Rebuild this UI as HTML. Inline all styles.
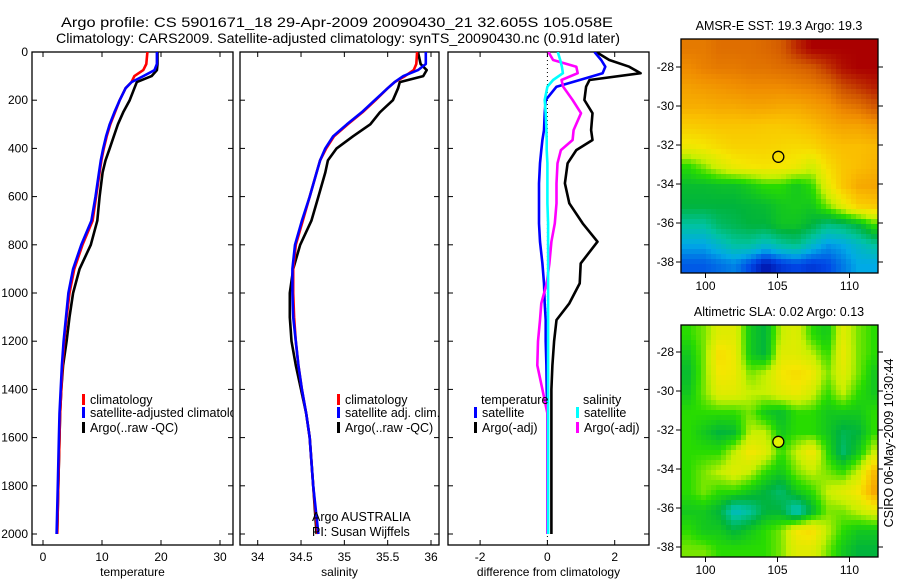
<!DOCTYPE html>
<html><head><meta charset="utf-8">
<style>
html,body{margin:0;padding:0;background:#fff;}
svg{display:block;font-family:"Liberation Sans",sans-serif;}
</style></head>
<body>
<svg id="fig" width="900" height="580" viewBox="0 0 900 580" xmlns="http://www.w3.org/2000/svg">
<rect width="900" height="580" fill="#fff"/>
<text x="61" y="27" font-size="14" textLength="552" lengthAdjust="spacingAndGlyphs">Argo profile: CS 5901671_18 29-Apr-2009 20090430_21 32.605S 105.058E</text>
<text x="56" y="43" font-size="14" textLength="564" lengthAdjust="spacingAndGlyphs">Climatology: CARS2009. Satellite-adjusted climatology: synTS_20090430.nc (0.91d later)</text>
<g id="plots"></g>
</svg>
<script>
// ---------- data ----------
const depths = [0,50,75,100,125,150,200,250,300,350,400,450,500,600,700,800,900,1000,1100,1200,1300,1400,1500,1600,1800,2000];
const tempSat = [19.3,19.3,18.9,17,15,14,13,12.1,11.3,10.7,10.2,9.8,9.5,8.9,8.2,6.5,5.1,4.3,3.9,3.5,3.2,3.0,2.8,2.7,2.5,2.3];
const tempClim = [17.7,17.5,17,15.5,15,14,13,12.2,11.4,10.8,10.3,9.9,9.6,9.0,8.4,6.7,5.3,4.5,4.0,3.6,3.3,3.1,2.9,2.8,2.6,2.4];
const tempArgo = [19.4,19.4,19.3,18.4,15.9,15.5,14.7,13.6,12.7,12,11.3,10.6,10.1,9.6,9.2,8.1,6.2,5.1,4.5,4.0,3.4,3.1,2.9,2.8,2.6,2.4];
const salSat = [35.94,35.94,35.85,35.68,35.58,35.5,35.35,35.2,35.03,34.87,34.78,34.72,34.68,34.6,34.51,34.43,34.4,34.4,34.41,34.44,34.47,34.51,34.56,34.6,34.64,34.7];
const salClim = [35.84,35.83,35.8,35.7,35.58,35.5,35.36,35.21,35.04,34.88,34.79,34.72,34.68,34.6,34.52,34.44,34.41,34.41,34.42,34.44,34.47,34.51,34.56,34.6,34.64,34.69];
const salArgo = [35.85,35.88,35.95,35.91,35.64,35.62,35.56,35.41,35.3,35.1,34.91,34.81,34.78,34.7,34.62,34.49,34.41,34.37,34.37,34.39,34.44,34.5,34.56,34.6,34.64,34.68];
const diffDepths = [0,33,61,88,116,144,199,254,324,365,407,462,545,628,711,787,877,960,1043,1112,1200,1300,1400,1500,1600,1800,1950,2000];
const diffTempArgo = [1.45,1.84,2.43,2.77,1.25,1.15,1.1,1.34,1.3,1.34,0.86,0.6,0.52,0.65,1.05,1.49,0.99,0.96,0.65,0.27,0.2,0.15,0.12,0.12,0.12,0.12,0.12,0.12];
const diffTempSat = [1.4,1.6,1.72,1.64,0.96,0.27,-0.05,-0.08,-0.1,-0.15,-0.18,-0.22,-0.25,-0.25,-0.25,-0.22,-0.15,-0.1,-0.08,-0.05,-0.05,-0.03,-0.02,0,0,0,0,0];
const diffSalArgo = [0.03,0.17,0.86,0.9,0.42,0.47,0.75,1.0,0.78,0.75,0.4,0.3,0.27,0.27,0.22,0.12,0.06,-0.02,-0.18,-0.22,-0.28,-0.3,-0.15,0,0,0,0,0];
const diffSalSat = [0.31,0.38,0.43,0.46,0.17,0.0,-0.08,-0.05,-0.03,-0.02,-0.02,0,0,0,0.02,0.02,0.02,0.02,0.02,0.02,0.02,0.02,0.02,0.02,0.02,0.02,0.02,0.02];
const depthTicks = [0,200,400,600,800,1000,1200,1400,1600,1800,2000];
const tempTicks = [0,10,20,30];
const salTicks = [34,34.5,35,35.5,36];
const salTickLabels = ["34","34.5","35","35.5","36"];
const diffTicks = [-2,0,2];
const lonTicks = [100,105,110];
const latTicks = [-28,-30,-32,-34,-36,-38];
// SST field (colour index 0..11), rows north->south, cols west->east
const sstGrid = [
[9.3,9.3,9.5,9.5,9.5,9.6,9.8,10.5,11,11,11,11,11],
[9,9.2,9.3,9.3,9.4,9.4,9.5,9.6,9.8,10.3,10.8,11,11],
[8.6,8.7,8.8,8.9,9,9,9,9.1,9.2,9.4,10,10.3,10.6],
[8.3,8.3,8.4,8.4,8.5,8.5,8.4,8.4,8.6,8.8,9.2,9.4,9.8],
[7.6,7.7,7.8,7.8,7.8,7.7,7.7,7.8,8,8.3,8.5,8.5,8.7],
[6.8,7,7.3,7.5,7.5,7.5,7.4,7.3,7.4,7.8,8,8,8.1],
[5,5.6,6.3,6.8,7,7.1,7,6.8,6.2,7.2,7.8,8,8.2],
[4.2,4.2,4.3,4.3,4.6,5,5,4.5,5,6.6,7.8,8.4,8.5],
[4,4,4,4,4.1,4.2,4.5,4.6,4.5,5.5,6.6,7.6,7.8],
[3,3,3.6,3.8,4,4,4.4,4.4,4,3.3,3.5,4,5],
[2,2,2.5,3,3,2.5,3,3.3,2.5,1.8,2,2.5,3],
[1.2,1.2,1.4,1.6,1,0.3,0.8,1,0.8,1,1.5,2,2]];
const slaGrid = [
[5,5.5,6.5,6.5,4.5,4,6,6.5,5,4.5,6.5,5.5,5],
[4.5,5.5,7.3,6.8,4.5,4,6.5,6.5,6,5,6.8,5.5,5],
[4.2,5.5,7,6.8,5.5,6,7,7.3,7,5.5,6.5,5.5,4.5],
[4.5,5.5,6.5,6.5,6,6,6.5,6.8,6.2,5,6,5,4.5],
[5,5,5,5,5.5,4.5,4.2,5,5,4.5,4.5,4.5,5],
[5,4.5,4,4.2,6,6,4.5,5,5,4.5,3.8,4,5],
[5,5,5,6,7,6.5,5,6,7,5,3.5,4.5,6],
[5,5.5,6,6.5,6,5,4.5,5.5,6,5.5,5,6,8],
[5,5.5,5,5,4.5,4,3.5,4.5,5,6,6.5,7,8.5],
[4.5,4.5,4,2.5,3,4,4,2.5,4,5.5,5.5,6,6.5],
[5,4.5,4.5,4,4.5,5,5.5,7,7.3,6,5,4.5,4.5],
[5.5,5.5,5,5,5,5,5.5,6.5,6.5,5.5,4.5,4,4]];
const palette = [[0,0,150],[0,70,230],[0,170,230],[0,195,160],[0,180,60],[40,220,0],[200,240,0],[245,230,0],[250,190,0],[240,140,0],[205,80,0],[170,0,0]];
const argoLon = 105.058, argoLat = -32.605;

// ---------- helpers ----------
const NS="http://www.w3.org/2000/svg";
const root=document.getElementById('plots');
function mk(tag,attrs,parent){const e=document.createElementNS(NS,tag);for(const k in attrs)e.setAttribute(k,attrs[k]);(parent||root).appendChild(e);return e;}
function txt(s,x,y,size,anchor,parent){const t=mk('text',{x:x,y:y,'font-size':size,'text-anchor':anchor||'middle'},parent);t.textContent=s;return t;}
const TOP=52, BOT=545;
const yDepth=d=>52+0.241*d;
function lin(d0,d1,r0,r1){return v=>r0+(v-d0)*(r1-r0)/(d1-d0);}

function panel(name,x0,x1,xs,ticks,labels,xlabel,showY){
  const g=mk('g',{});
  
  
  const cp=mk('clipPath',{id:'clip-'+name},g);
  mk('rect',{x:x0,y:TOP,width:x1-x0,height:BOT-TOP},cp);
  const fr=mk('rect',{x:x0,y:TOP,width:x1-x0,height:BOT-TOP,fill:'none',stroke:'#000','stroke-width':1.3},g);
  
  
  depthTicks.forEach(d=>{
    const y=yDepth(d);
    mk('line',{x1:x0,x2:x0+5,y1:y,y2:y,stroke:'#000'},g);
    mk('line',{x1:x1-5,x2:x1,y1:y,y2:y,stroke:'#000'},g);
    if(showY){const t=txt(String(d),x0-4,y+4,12,'end',g);
      
      }
  });
  ticks.forEach((v,i)=>{
    const x=xs(v);
    mk('line',{x1:x,x2:x,y1:BOT,y2:BOT-5,stroke:'#000'},g);
    mk('line',{x1:x,x2:x,y1:TOP,y2:TOP+5,stroke:'#000'},g);
    const t=txt(labels[i],x,561,12,'middle',g);
    
    
  });
  const xl=txt(xlabel,(x0+x1)/2,576,12,'middle',g);
  
  
  const plot=mk('g',{'clip-path':'url(#clip-'+name+')'},g);
  return plot;
}
function line(parent,name,ds,vals,xs,color,w){
  const pts=ds.map((d,i)=>xs(vals[i]).toFixed(1)+','+yDepth(d).toFixed(1)).join(' ');
  const p=mk('polyline',{points:pts,fill:'none',stroke:color,'stroke-width':w||2.6,'stroke-linejoin':'round'},parent);
  
  
}
function legendEntry(parent,name,x,y,color,label){
  const g=mk('g',{},parent);
  
  
  mk('rect',{x:x,y:y-10,width:3,height:11,fill:color},g);
  txt(label,x+8,y,12.5,'start',g);
}

// ---------- panel 1: temperature ----------
const xT=lin(0,30,43,220);
const p1=panel('temperature-panel',32,233,xT,tempTicks,tempTicks.map(String),'temperature',true);
line(p1,'temp-argo-line',depths,tempArgo,xT,'#000');
line(p1,'temp-climatology-line',depths,tempClim,xT,'#f00');
line(p1,'temp-satellite-line',depths,tempSat,xT,'#00f');
const lg1=mk('g',{'clip-path':'url(#clip-temperature-panel)'});


legendEntry(lg1,'legend-climatology',82,404,'#f00','climatology');
legendEntry(lg1,'legend-satellite-adjusted',82,417,'#00f','satellite-adjusted climatology');
legendEntry(lg1,'legend-argo-raw',82,432,'#000','Argo(..raw -QC)');

// ---------- panel 2: salinity ----------
const xS=lin(34,36,257.7,431);
const p2=panel('salinity-panel',240,439,xS,salTicks,salTickLabels,'salinity',false);
line(p2,'sal-argo-line',depths,salArgo,xS,'#000');
line(p2,'sal-climatology-line',depths,salClim,xS,'#f00');
line(p2,'sal-satellite-line',depths,salSat,xS,'#00f');
const lg2=mk('g',{});


legendEntry(lg2,'legend-climatology-2',337,404,'#f00','climatology');
legendEntry(lg2,'legend-satellite-adj',337,417,'#00f','satellite adj. clim.');
legendEntry(lg2,'legend-argo-raw-2',337,432,'#000','Argo(..raw -QC)');
const cr1=txt('Argo AUSTRALIA',312,521,12.5,'start');


const cr2=txt('PI: Susan Wijffels',312,536,12.5,'start');



// ---------- panel 3: differences ----------
const xD=lin(0,2,547.4,614.7);
const p3=panel('difference-panel',448,649,xD,diffTicks,diffTicks.map(String),'difference from climatology',false);
const zl=mk('line',{x1:xD(0),x2:xD(0),y1:TOP,y2:BOT,stroke:'#000','stroke-dasharray':'1,3'},p3);


line(p3,'diff-temp-argo-line',diffDepths,diffTempArgo,xD,'#000');
line(p3,'diff-temp-satellite-line',diffDepths,diffTempSat,xD,'#00f');
line(p3,'diff-sal-argo-line',diffDepths,diffSalArgo,xD,'#f0f');
line(p3,'diff-sal-satellite-line',diffDepths,diffSalSat,xD,'#0ff');
const lg3=mk('g',{});


txt('temperature',481,404,12.5,'start',lg3);
txt('salinity',583,404,12.5,'start',lg3);
legendEntry(lg3,'legend-temp-satellite',474,417,'#00f','satellite');
legendEntry(lg3,'legend-temp-argo',474,432,'#000','Argo(-adj)');
legendEntry(lg3,'legend-sal-satellite',576,417,'#0ff','satellite');
legendEntry(lg3,'legend-sal-argo',576,432,'#f0f','Argo(-adj)');

// ---------- maps ----------
function colorAt(v){v=Math.max(0,Math.min(11,v));const i=Math.min(10,Math.floor(v)),f=v-i;
  const a=palette[i],b=palette[i+1];return 'rgb('+a.map((c,k)=>Math.round(c+(b[k]-c)*f)).join(',')+')';}
function sample(grid,r,c){const R=grid.length,C=grid[0].length;
  r=Math.max(0,Math.min(R-1,r));c=Math.max(0,Math.min(C-1,c));
  const r0=Math.min(R-2,Math.floor(r)),c0=Math.min(C-2,Math.floor(c)),fr=r-r0,fc=c-c0;
  return grid[r0][c0]*(1-fr)*(1-fc)+grid[r0][c0+1]*(1-fr)*fc+grid[r0+1][c0]*fr*(1-fc)+grid[r0+1][c0+1]*fr*fc;}
function map(name,title,grid,y0,y1,lat28y,marker){
  const g=mk('g',{});
  
  
  const x0=681,x1=878;
  const lonX=lin(100,105,705.5,777.5);
  const latY=lin(-28,-38,lat28y,lat28y+195);
  const tt=txt(title,779,y0-9,12.5,'middle',g);
  
  
  const cells=mk('g',{},g);
  
  
  const cw=5,ch=5;const nx=Math.ceil((x1-x0)/cw),ny=Math.ceil((y1-y0)/ch);
  const R=grid.length,C=grid[0].length;
  for(let j=0;j<ny;j++)for(let i=0;i<nx;i++){
    const r=(j+0.5)/ny*R-0.5,c=(i+0.5)/nx*C-0.5;
    mk('rect',{x:x0+i*cw,y:y0+j*ch,width:Math.min(cw,x1-x0-i*cw),height:Math.min(ch,y1-y0-j*ch),fill:colorAt(sample(grid,r,c)),'shape-rendering':'crispEdges'},cells);
  }
  mk('rect',{x:x0,y:y0,width:x1-x0,height:y1-y0,fill:'none',stroke:'#000','stroke-width':1.3},g);
  latTicks.forEach(l=>{const y=latY(l);
    mk('line',{x1:x1,x2:x1+5,y1:y,y2:y,stroke:'#000'},g);
    mk('line',{x1:x0-5,x2:x0,y1:y,y2:y,stroke:'#000'},g);
    const t=txt(String(l),x0-7,y+4,12,'end',g);
    
    });
  lonTicks.forEach(l=>{const x=lonX(l);
    mk('line',{x1:x,x2:x,y1:y1,y2:y1+5,stroke:'#000'},g);
    const t=txt(String(l),x,y1+17,12,'middle',g);
    
    });
  const m=mk('circle',{cx:lonX(argoLon),cy:latY(argoLat),r:5.5,fill:marker,stroke:'#000','stroke-width':1.3},g);
  
  
}
map('sst-map','AMSR-E SST: 19.3 Argo: 19.3',sstGrid,39,273,67,'none');
map('sla-map','Altimetric SLA: 0.02 Argo: 0.13',slaGrid,325,557,352,'#e0f000');
const st=txt('CSIRO 06-May-2009 10:30:44',0,0,12.5,'middle');
st.setAttribute('transform','translate(893,443) rotate(-90)');


</script>
</body></html>
